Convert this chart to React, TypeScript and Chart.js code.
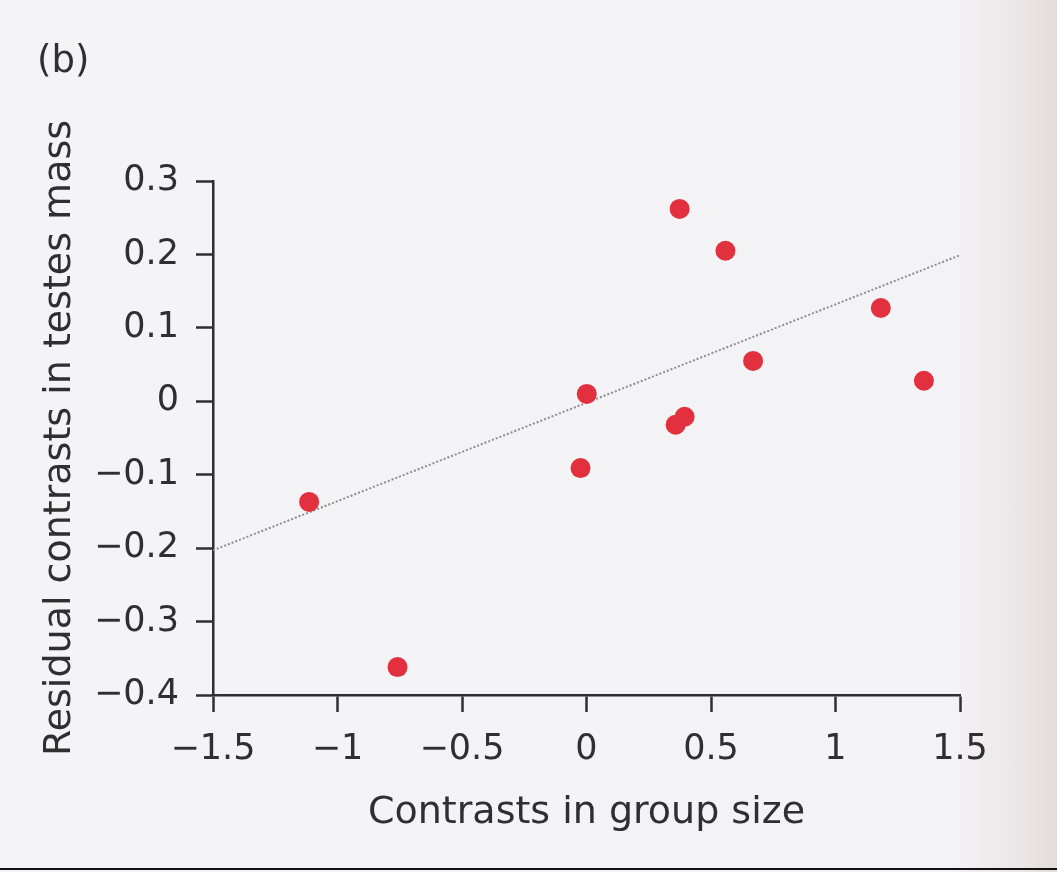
import React, { useEffect, useRef } from "react";
import { Chart, registerables } from "chart.js";

Chart.register(...registerables);

// ---- data ----
const groupSize = [0.374, 0.558, 1.182, 0.669, 1.355, 0.001, 0.394, 0.358, -0.024, -1.114, -0.759];
const testesMass = [0.262, 0.205, 0.127, 0.055, 0.028, 0.01, -0.021, -0.032, -0.091, -0.137, -0.362];
const fitX = [-1.5, 1.5];
const fitY = [-0.203, 0.199];
const xTicks = [-1.5, -1, -0.5, 0, 0.5, 1, 1.5];
const yTicks = [-0.4, -0.3, -0.2, -0.1, 0, 0.1, 0.2, 0.3];
const panelLabel = "(b)";
const xTitle = "Contrasts in group size";
const yTitle = "Residual contrasts in testes mass";

const FONT = "'DejaVu Sans', sans-serif";
const INK = "#2f2f2f";

const fmt = (v: number) => {
  const r = Math.round(v * 10) / 10;
  if (r === 0) return "0";
  return (r < 0 ? "\u2212" : "") + String(Math.abs(r));
};

const panelLabelPlugin = {
  id: "panelLabel",
  afterDraw(chart: any) {
    const ctx = chart.ctx;
    ctx.save();
    ctx.font = `37px ${FONT}`;
    ctx.fillStyle = INK;
    ctx.textBaseline = "middle";
    ctx.textAlign = "left";
    ctx.fillText(panelLabel, 37, 62);
    ctx.restore();
  },
};

export default function App() {
  const ref = useRef<HTMLCanvasElement | null>(null);

  useEffect(() => {
    document.body.style.margin = "0";
    if (!ref.current) return;
    const chart = new Chart(ref.current, {
      type: "scatter",
      data: {
        datasets: [
          {
            label: "contrasts",
            data: groupSize.map((x, i) => ({ x, y: testesMass[i] })),
            backgroundColor: "#e2303f",
            borderWidth: 0,
            pointRadius: 10,
            order: 0,
          },
          {
            label: "fit",
            data: fitX.map((x, i) => ({ x, y: fitY[i] })),
            showLine: true,
            borderColor: "#8e8e8e",
            borderWidth: 2,
            borderDash: [2, 2],
            pointRadius: 0,
            order: 1,
          },
        ],
      },
      options: {
        animation: false,
        responsive: false,
        devicePixelRatio: 1,
        layout: { padding: { left: 0, top: 181, right: 97, bottom: 0 } },
        plugins: { legend: { display: false }, tooltip: { enabled: false } },
        scales: {
          x: {
            type: "linear",
            min: -1.5,
            max: 1.5,
            afterBuildTicks: (s: any) => {
              s.ticks = xTicks.map((v) => ({ value: v }));
            },
            afterFit: (s: any) => {
              s.height = 177;
            },
            ticks: {
              callback: (v: any) => fmt(Number(v)),
              font: { family: FONT, size: 35 },
              color: INK,
              padding: 17,
              maxRotation: 0,
              autoSkip: false,
            },
            grid: {
              display: true,
              drawOnChartArea: false,
              drawTicks: true,
              tickLength: 17,
              tickWidth: 2.5,
              tickColor: INK,
            },
            border: { display: true, color: INK, width: 2.5 },
            title: {
              display: true,
              text: xTitle,
              font: { family: FONT, size: 38 },
              color: INK,
              padding: { top: 0, bottom: 36 },
            },
          },
          y: {
            type: "linear",
            position: "left",
            min: -0.4,
            max: 0.3,
            afterBuildTicks: (s: any) => {
              s.ticks = yTicks.map((v) => ({ value: v }));
            },
            afterFit: (s: any) => {
              s.width = 213;
            },
            ticks: {
              callback: (v: any) => fmt(Number(v)),
              font: { family: FONT, size: 35 },
              color: INK,
              padding: 17,
              autoSkip: false,
            },
            grid: {
              display: true,
              drawOnChartArea: false,
              drawTicks: true,
              tickLength: 17,
              tickWidth: 2.5,
              tickColor: INK,
            },
            border: { display: true, color: INK, width: 2.5 },
            title: {
              display: true,
              text: yTitle,
              font: { family: FONT, size: 38 },
              color: INK,
              padding: { top: 37, bottom: 0 },
            },
          },
        },
      },
      plugins: [panelLabelPlugin],
    });
    return () => chart.destroy();
  }, []);

  return (
    <div
      style={{
        position: "relative",
        width: 1057,
        height: 872,
        overflow: "hidden",
        background:
          "linear-gradient(to right, #f4f3f5 0%, #f3f2f4 90%, #ece7e8 96%, #e4dddd 100%)",
      }}
    >
      <canvas
        ref={ref}
        width={1057}
        height={872}
        style={{ position: "absolute", left: 0, top: 0, width: 1057, height: 872 }}
      />
      <div
        style={{
          position: "absolute",
          left: 0,
          top: 868,
          width: 1057,
          height: 2,
          background: "#111",
        }}
      />
    </div>
  );
}
